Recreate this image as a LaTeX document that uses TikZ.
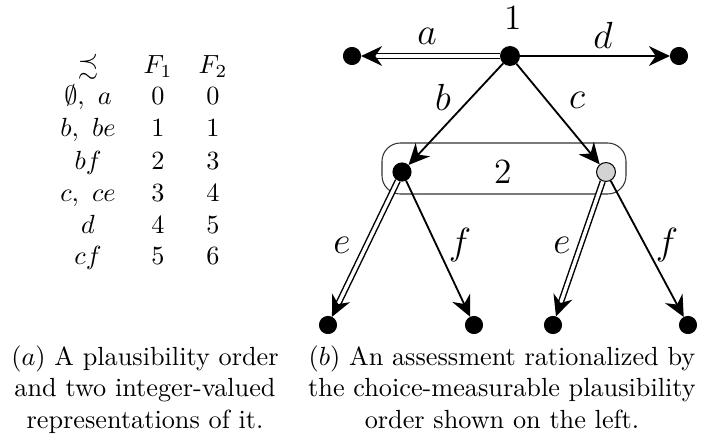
\documentclass[tikz,border=0pt]{standalone}
\usepackage{amssymb}
\usetikzlibrary{arrows.meta,calc}
\definecolor{grey1}{HTML}{D3D3D3}
\begin{document}
\begin{tikzpicture}[x=0.381pt,y=-0.381pt,
  dot/.style={circle,fill=black,draw=black,inner sep=0pt,minimum size=6.5pt},
  bigdot/.style={dot,minimum size=7.2pt},
  greydot/.style={dot,fill=grey1,line width=0.4pt,minimum size=7.2pt},
  arr/.style={line width=0.7pt,-{Stealth[length=8pt,width=7.5pt,inset=2.6pt]}},
  dbl/.style={line width=0.55pt,double,double distance=1.3pt},
  lab/.style={font=\fontsize{13.5}{16}\selectfont,inner sep=0pt},
  num/.style={font=\fontsize{13.5}{16}\selectfont,inner sep=0pt},
  cell/.style={anchor=base,inner sep=0pt},
  captext/.style={align=center,anchor=north,inner sep=0pt},
  infoset/.style={draw=black!80,line width=0.4pt,rounded corners=7pt}
]
\useasboundingbox (0,0) rectangle (701,442);

% table
\node[cell] (h0) at (88,74) {$\precsim$};
\node[cell] (h1) at (158,74) {$F_1$};
\node[cell] (h2) at (213,74) {$F_2$};
\node[cell] (r1a) at (88,105) {$\emptyset,\ a$};
\node[cell] (r1b) at (158,105) {$0$};
\node[cell] (r1c) at (213,105) {$0$};
\node[cell] (r2a) at (88,137) {$b,\ be$};
\node[cell] (r2b) at (158,137) {$1$};
\node[cell] (r2c) at (213,137) {$1$};
\node[cell] (r3a) at (88,169) {$bf$};
\node[cell] (r3b) at (158,169) {$2$};
\node[cell] (r3c) at (213,169) {$3$};
\node[cell] (r4a) at (88,201) {$c,\ ce$};
\node[cell] (r4b) at (158,201) {$3$};
\node[cell] (r4c) at (213,201) {$4$};
\node[cell] (r5a) at (88,233) {$d$};
\node[cell] (r5b) at (158,233) {$4$};
\node[cell] (r5c) at (213,233) {$5$};
\node[cell] (r6a) at (88,264) {$cf$};
\node[cell] (r6b) at (158,264) {$5$};
\node[cell] (r6c) at (213,264) {$6$};

% information set
\draw[infoset] (382,143) rectangle (626,194);

% tree nodes
\node[bigdot] (n1) at (510,56) {};
\node[dot] (aL) at (352,56) {};
\node[dot] (dR) at (679,56) {};
\node[dot,minimum size=6.9pt] (m1) at (402,172) {};
\node[greydot] (m2) at (606,172) {};
\node[dot] (l1) at (328,325) {};
\node[dot] (l2) at (474,325) {};
\node[dot] (l3) at (553,325) {};
\node[dot] (l4) at (688,325) {};

% edges
\draw[dbl] (n1) -- ($(aL)!8.5pt!(n1)$);
\draw[arr] ($(aL)!8.5pt!(n1)$) -- (aL);
\draw[arr] (n1) -- (dR);
\draw[arr] (n1) -- (m1);
\draw[arr] (n1) -- (m2);
\draw[dbl] (m1) -- ($(l1)!8.5pt!(m1)$);
\draw[arr] ($(l1)!8.5pt!(m1)$) -- (l1);
\draw[arr] (m1) -- (l2);
\draw[dbl] (m2) -- ($(l3)!8.5pt!(m2)$);
\draw[arr] ($(l3)!8.5pt!(m2)$) -- (l3);
\draw[arr] (m2) -- (l4);

% labels
\node[num] (t1) at (513,18) {1};
\node[num] (t2) at (503,172) {2};
\node[lab] (la) at (427,36) {$a$};
\node[lab] (ld) at (603,35) {$d$};
\node[lab] (lb) at (443,97) {$b$};
\node[lab] (lc) at (577,100) {$c$};
\node[lab] (le1) at (342,245) {$e$};
\node[lab] (lf1) at (460,245) {$f$};
\node[lab] (le2) at (562,245) {$e$};
\node[lab] (lf2) at (667,245) {$f$};

% captions
\node[captext] (capa) at (145,345) {$(a)$ A plausibility order\\and two integer-valued\\representations of it.};
\node[captext] (capb) at (502,345) {$(b)$ An assessment rationalized by\\the choice-measurable plausibility\\order shown on the left.};
\end{tikzpicture}
\end{document}
